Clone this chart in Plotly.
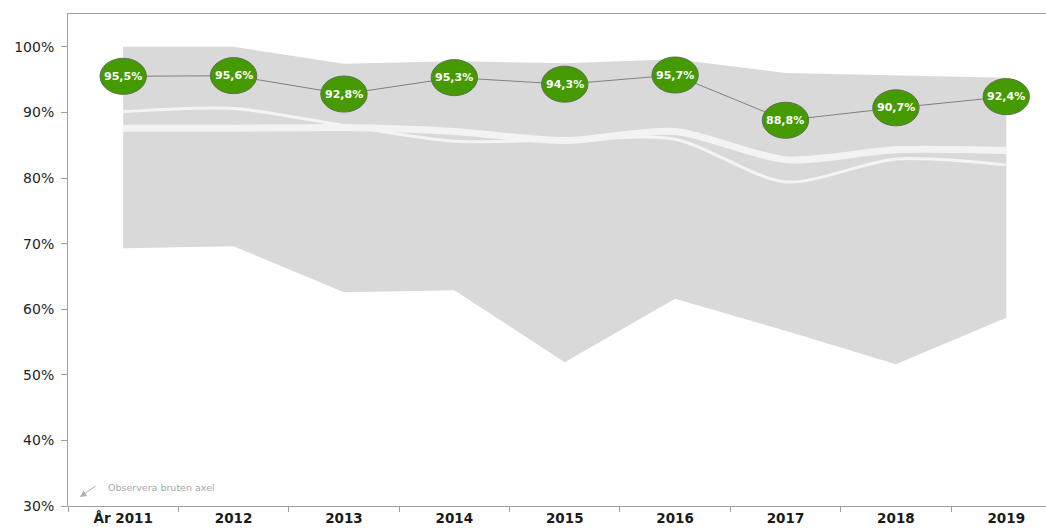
import plotly.graph_objects as go

years = ["2011", "2012", "2013", "2014", "2015", "2016", "2017", "2018", "2019"]
tick_labels = ["År 2011", "2012", "2013", "2014", "2015", "2016", "2017", "2018", "2019"]
y_ticks = [30, 40, 50, 60, 70, 80, 90, 100]
y_tick_labels = ["30%", "40%", "50%", "60%", "70%", "80%", "90%", "100%"]
band_upper = [100.0, 100.0, 97.4, 97.8, 97.5, 98.1, 96.0, 95.6, 95.3]
band_lower = [69.3, 69.6, 62.6, 62.9, 51.9, 61.6, 56.7, 51.6, 58.7]
thick_line = [87.6, 87.6, 87.7, 87.1, 85.7, 87.1, 82.8, 84.3, 84.2]
thin_line = [90.1, 90.6, 88.0, 85.6, 85.8, 85.9, 79.4, 82.9, 82.0]
values = [95.5, 95.6, 92.8, 95.3, 94.3, 95.7, 88.8, 90.7, 92.4]
value_labels = ["95,5%", "95,6%", "92,8%", "95,3%", "94,3%", "95,7%", "88,8%", "90,7%", "92,4%"]

FONT = "DejaVu Sans"
W, H = 1046, 532
ML, MR, MT, MB = 68, 0, 14, 26

fig = go.Figure()

# grey band
fig.add_trace(go.Scatter(x=years, y=band_lower, mode="lines", line=dict(width=0, color="#d9d9d9"),
                         hoverinfo="skip", showlegend=False))
fig.add_trace(go.Scatter(x=years, y=band_upper, mode="lines", line=dict(width=0, color="#d9d9d9"),
                         fill="tonexty", fillcolor="#d9d9d9", hoverinfo="skip", showlegend=False))

# white lines
fig.add_trace(go.Scatter(x=years, y=thin_line, mode="lines",
                         line=dict(width=3, color="#f4f4f4", shape="spline", smoothing=0.8),
                         showlegend=False))
fig.add_trace(go.Scatter(x=years, y=thick_line, mode="lines",
                         line=dict(width=7, color="#f3f3f3", shape="spline", smoothing=0.8),
                         showlegend=False))

# connecting line for values
fig.add_trace(go.Scatter(x=years, y=values, mode="lines",
                         line=dict(width=1, color="#7f7f7f"), showlegend=False))

shapes = []
annotations = []
for i, (v, lab) in enumerate(zip(values, value_labels)):
    shapes.append(dict(type="circle", xref="x", yref="y",
                       x0=i - 0.21, x1=i + 0.21, y0=v - 2.75, y1=v + 2.75,
                       fillcolor="#459a00", line=dict(color="#5f6f55", width=1), layer="above"))
    annotations.append(dict(x=i, y=v, xref="x", yref="y", text=lab, showarrow=False,
                            font=dict(family=FONT, size=11, color="white", weight="bold")))


def px_to_paper(px, py):
    return (px - ML) / (W - ML - MR), (H - MB - py) / (H - MB - MT)


tx, ty = px_to_paper(106, 487)
annotations.append(dict(x=tx, y=ty, xref="paper", yref="paper", text="Observera bruten axel",
                        xanchor="left", yanchor="middle", showarrow=False,
                        font=dict(family=FONT, size=9.5, color="#a6a6a6")))
axp, ayp = px_to_paper(80, 497)
annotations.append(dict(x=axp, y=ayp, xref="paper", yref="paper",
                        ax=17, ay=-12, text="", showarrow=True,
                        arrowhead=2, arrowsize=1.3, arrowwidth=1, arrowcolor="#b0b0b0"))

fig.update_layout(
    width=W, height=H,
    margin=dict(l=ML, r=MR, t=MT, b=MB),
    plot_bgcolor="white", paper_bgcolor="white",
    font=dict(family=FONT, color="#262626"),
    shapes=shapes, annotations=annotations,
    xaxis=dict(type="category", range=[-0.5, 8.36], tickvals=years, ticktext=tick_labels,
               tickson="boundaries", ticks="outside", ticklen=5, tickcolor="#a0a0a0",
               showline=True, linecolor="#a0a0a0", linewidth=1, mirror=True,
               showgrid=False, tickfont=dict(family=FONT, size=13.5, color="#1a1a1a", weight="bold")),
    yaxis=dict(range=[30, 105], tickvals=y_ticks, ticktext=y_tick_labels,
               ticks="outside", ticklen=6, tickcolor="#a0a0a0", ticklabelstandoff=4,
               showline=True, linecolor="#a0a0a0", linewidth=1, showgrid=False, zeroline=False,
               tickfont=dict(family=FONT, size=14, color="#1f1f1f")),
)

fig.write_html("out.html", config={"displayModeBar": False},
               post_script="document.body.style.margin='0';document.body.style.overflow='hidden';")
